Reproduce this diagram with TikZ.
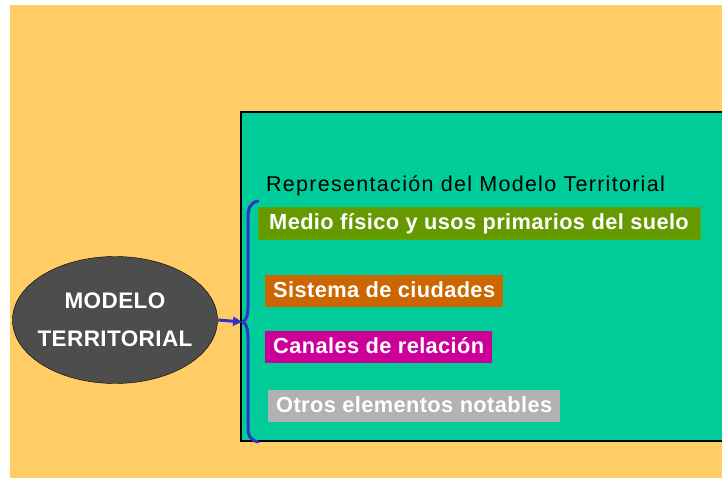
\documentclass[tikz,border=0pt]{standalone}
\usepackage{fontspec}
\setmainfont{Liberation Sans}
\usetikzlibrary{shapes.geometric,arrows.meta}
\definecolor{fondo}{HTML}{FFCC66}
\definecolor{verdeagua}{HTML}{00CC99}
\definecolor{oscuro}{HTML}{4D4D4D}
\definecolor{oliva}{HTML}{669900}
\definecolor{naranja}{HTML}{CC6600}
\definecolor{magenta}{HTML}{CC0099}
\definecolor{plata}{HTML}{B2B2B2}
\definecolor{azul}{HTML}{3333CC}
\newfontfamily\ancha[LetterSpace=1.8]{Liberation Sans}
\newfontfamily\titular[LetterSpace=6]{Liberation Sans}
\begin{document}
\begin{tikzpicture}[x=1pt,y=-1pt]

        \tikzstyle{caja}=[anchor=north west, inner xsep=8pt, inner ysep=0pt,
            minimum height=32pt, text height=16pt, text depth=3pt,
            text=white, font=\ancha\fontsize{21.8}{24}\selectfont\bfseries]
        \tikzstyle{azulado}=[draw=azul, line width=3pt]

        \useasboundingbox (0,0) rectangle (722,478);
        \fill[fondo] (10,5) rectangle (722,478);
        \draw[line width=1.2pt, fill=verdeagua] (241,112) rectangle (730,441);

        \node[ellipse, draw, fill=oscuro, inner sep=0pt, minimum width=205pt, minimum height=127pt]
            (modelo) at (115,320) {};
        \node[align=center, text=white, font=\ancha\fontsize{22.5}{38}\selectfont\bfseries]
            (rotulo) at (modelo.center) {MODELO\\TERRITORIAL};

        \node[anchor=base west, inner sep=0pt, font=\titular\fontsize{21.5}{24}\selectfont]
            (titulo) at (266,192) {Representación del Modelo Territorial};

        \node[caja, fill=oliva, draw=oliva!80!green, inner xsep=11pt]
            (medio) at (258,207) {Medio físico y usos primarios del suelo};
        \node[caja, fill=naranja] (sistema) at (265,275) {Sistema de ciudades};
        \node[caja, fill=magenta] (canales) at (265,331) {Canales de relación};
        \node[caja, fill=plata] (otros) at (268,390) {Otros elementos notables};

        % llave
        \coordinate (punta) at (243,322);
        \draw[azulado, line cap=round] (258,201) .. controls (250,203) and (248,208) .. (248,218)
            -- (248,306) .. controls (248,316) and (246,320) .. (punta)
            .. controls (246,324) and (248,328) .. (248,338)
            -- (248,426) .. controls (248,436) and (250,440) .. (258,442);
        \draw[azulado, -{Triangle[length=9pt,width=9pt]}, shorten >=1pt] (modelo.east) -- (punta);

\end{tikzpicture}
\end{document}
